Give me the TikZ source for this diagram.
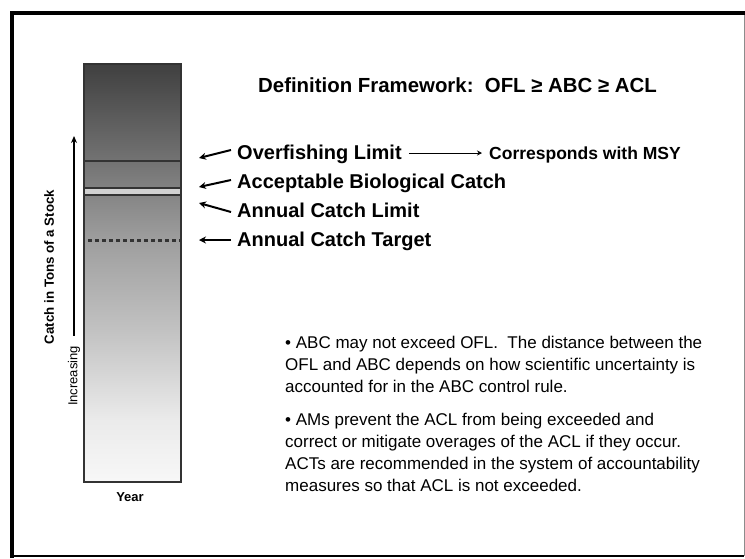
\documentclass[tikz,border=0pt]{standalone}
\usepackage{fontspec}
\setmainfont{Liberation Sans}
\usetikzlibrary{arrows.meta}
\pgfdeclareverticalshading{barshade}{100bp}{color(0bp)=(black!3); color(25bp)=(black!3); color(32.4bp)=(black!8); color(43.2bp)=(black!24); color(53.9bp)=(black!38); color(63.4bp)=(black!55); color(75bp)=(black!75); color(100bp)=(black!75)}
\begin{document}
\begin{tikzpicture}[x=1pt,y=-1pt,
  lbl/.style={anchor=base west,inner sep=0pt,font=\fontsize{20}{22}\selectfont\bfseries},
  ptr/.style={line width=2pt,-{Stealth[length=7pt,width=7pt]}},
  barline/.style={draw=black!80,line width=2.2pt},
  body/.style={anchor=base west,inner sep=0pt,align=left,font=\fontsize{17}{22}\selectfont}]
\useasboundingbox (0,0) rectangle (745,558);
\fill[white] (0,0) rectangle (745,558);
% frame
\draw[black!45,line width=1pt] (744,13) -- (744,556);
\draw[black,line width=2pt] (12,556) -- (744,556);
\draw[black,line width=4pt] (12,558) -- (12,13) -- (745,13);
% bar
\shade[shading=barshade] (84,64) rectangle (181,482);
\fill[black!18] (84,188) rectangle (181,195);
\draw[barline] (84,161) -- (181,161);
\draw[barline] (84,188) -- (181,188);
\draw[barline] (84,195) -- (181,195);
\draw[black!80,line width=3pt,dash pattern=on 4pt off 3pt] (88,240) -- (181,240);
\draw[black!80,line width=2.5pt] (84,64) rectangle (181,482);
\coordinate (ofltip) at (199,158);
\coordinate (abctip) at (199,187);
\coordinate (acltip) at (199,203);
\coordinate (acttip) at (199,240);
% title
\node[lbl,font=\fontsize{20.4}{22}\selectfont\bfseries] (title) at (258,92) {Definition Framework:\ \ OFL ≥ ABC ≥ ACL};
% labels
\node[lbl] (ofl) at (237,159) {Overfishing Limit};
\node[lbl] (abc) at (237,188) {Acceptable Biological Catch};
\node[lbl] (acl) at (237,217) {Annual Catch Limit};
\node[lbl] (act) at (237,246) {Annual Catch Target};
\draw[ptr] ([xshift=-6pt,yshift=9pt]ofl.base west) -- (ofltip);
\draw[ptr] ([xshift=-6pt,yshift=8pt]abc.base west) -- (abctip);
\draw[ptr] ([xshift=-6pt,yshift=5pt]acl.base west) -- (acltip);
\draw[ptr] ([xshift=-6pt,yshift=6pt]act.base west) -- (acttip);
\node[anchor=base west,inner sep=0pt,font=\fontsize{17.5}{19}\selectfont\bfseries] (msy) at (489,159) {Corresponds with MSY};
\draw[line width=1pt,-{Stealth[length=5pt,width=5pt]}] ([xshift=7pt,yshift=6pt]ofl.base east) -- ([xshift=-7pt,yshift=6pt]msy.base west);
% axis
\node[rotate=90,font=\fontsize{13.3}{15}\selectfont\bfseries,inner sep=0pt] (ylab) at (49,267) {Catch in Tons of a Stock};
\node[rotate=90,font=\fontsize{13}{15}\selectfont,inner sep=0pt] (inc) at (74,376) {Increasing};
\coordinate (uptip) at (74,136);
\draw[line width=2pt,-{Stealth[length=7pt,width=6pt]}] ([yshift=10pt]inc.east) -- (uptip);
\node[font=\fontsize{13}{15}\selectfont\bfseries,inner sep=0pt] (year) at (130,497) {Year};
% body text
\node[body] (b1) at (285,392) {• ABC may not exceed OFL.\ \ The distance between the\\OFL and ABC depends on how scientific uncertainty is\\accounted for in the ABC control rule.};
\node[body] (b2) at (285,491) {• AMs prevent the ACL from being exceeded and\\correct or mitigate overages of the ACL if they occur.\\ACTs are recommended in the system of accountability\\measures so that ACL is not exceeded.};
\end{tikzpicture}
\end{document}
